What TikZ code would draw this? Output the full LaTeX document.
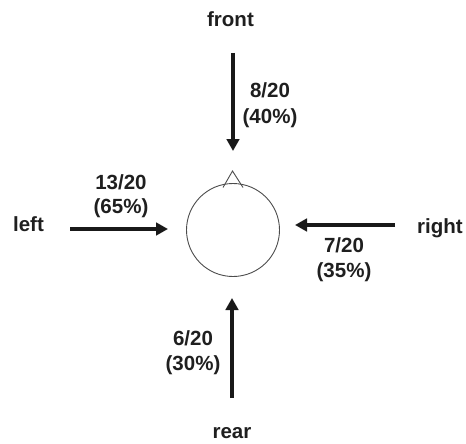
\documentclass[tikz,border=0pt]{standalone}
\usepackage{fontspec}
\setmainfont{Liberation Sans}
\usetikzlibrary{arrows.meta}
\begin{document}
\begin{tikzpicture}[x=1pt,y=-1pt,
  lbl/.style={font=\bfseries\fontsize{20.5}{25}\selectfont, text=black!88, inner sep=0pt, anchor=base},
  bigarrow/.style={line width=3.6pt, -{Triangle[length=12pt,width=12.5pt]}, black!90},
  head/.style={draw=black!70, line width=0.9pt, fill=white}]
\useasboundingbox (0,0) rectangle (466,444);
\node[circle, head, minimum size=93pt, inner sep=0pt] (c) at (233,230) {};
\coordinate (tl) at (223,187.5);
\coordinate (tr) at (243,187.5);
\coordinate (ta) at (232.5,171);
\draw[black!70, line width=0.9pt, line join=miter] (tl) -- (ta) -- (tr);
\node[lbl] (front) at (230.5,27) {front};
\node[lbl] (left) at (28.5,231) {left};
\node[lbl] (right) at (440,233) {right};
\node[lbl] (rear) at (232,438) {rear};
\coordinate (fs) at (233,53); \coordinate (fe) at (233,151);
\coordinate (ls) at (70,229); \coordinate (le) at (168,229);
\coordinate (rs) at (395,225); \coordinate (re) at (295,225);
\coordinate (bs) at (232,398); \coordinate (be) at (232,298);
\draw[bigarrow] (fs) -- (fe);
\draw[bigarrow] (ls) -- (le);
\draw[bigarrow] (rs) -- (re);
\draw[bigarrow] (bs) -- (be);
\node[lbl] (fl1) at (270,98) {8/20};
\node[lbl] (fl2) at (270,123) {(40\%)};
\node[lbl] (ll1) at (121,189) {13/20};
\node[lbl] (ll2) at (121,213) {(65\%)};
\node[lbl] (rl1) at (344,252) {7/20};
\node[lbl] (rl2) at (344,277) {(35\%)};
\node[lbl] (bl1) at (193,345) {6/20};
\node[lbl] (bl2) at (193,370) {(30\%)};
\end{tikzpicture}
\end{document}
